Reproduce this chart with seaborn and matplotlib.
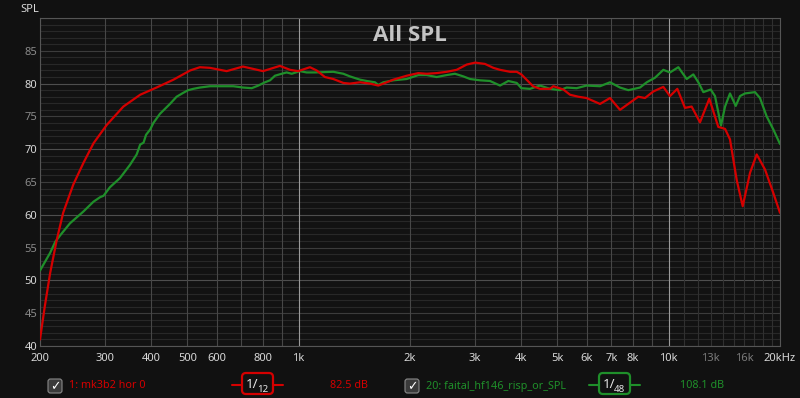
import numpy as np
import pandas as pd
import matplotlib
matplotlib.use('Agg')
import matplotlib.pyplot as plt
import seaborn as sns
from matplotlib.patches import FancyBboxPatch

# Kurve 1: mk3b2 hor 0 (1/12 oct)
freq_red = [200, 206, 213, 222, 231, 246, 262, 279, 303, 336, 373, 413, 459, 509,
            541, 576, 639, 707, 801, 890, 948, 997, 1073, 1119, 1178, 1241, 1321,
            1376, 1465, 1559, 1642, 1730, 1803, 1959, 2106, 2218, 2361, 2513, 2674,
            2846, 3000, 3189, 3360, 3502, 3726, 3886, 4000, 4300, 4492, 4779, 4880,
            5194, 5414, 5701, 6000, 6525, 6944, 7390, 7864, 8280, 8632, 9091, 9676,
            10086, 10556, 11072, 11540, 12157, 12880, 13621, 14207, 14651, 15277,
            15858, 16596, 17300, 18220, 19190, 20000]
spl_red = [41.0, 46.0, 51.1, 56.2, 60.3, 64.6, 67.9, 70.9, 73.7, 76.5, 78.3, 79.4, 80.6, 82.0,
           82.5, 82.4, 81.9, 82.6, 81.9, 82.7, 82.1, 81.9, 82.5, 82.0, 81.0, 80.7, 80.1,
           80.0, 80.2, 80.0, 79.7, 80.2, 80.6, 81.2, 81.6, 81.5, 81.6, 81.8, 82.1,
           82.9, 83.2, 83.0, 82.4, 82.1, 81.8, 81.8, 81.4, 79.6, 79.2, 79.2, 79.6,
           79.1, 78.3, 78.0, 77.8, 76.9, 77.8, 76.0, 77.1, 78.0, 77.8, 78.8, 79.5,
           78.1, 79.2, 76.3, 76.5, 74.1, 77.7, 73.4, 73.1, 71.5, 65.3,
           61.3, 66.4, 69.2, 66.9, 63.3, 60.3]

# Kurve 2: faital_hf146_risp_or_SPL (1/48 oct)
freq_green = [200, 213, 220, 227, 241, 262, 279, 291, 297, 309, 329, 350, 365, 373, 381,
              387, 397, 405, 422, 449, 468, 488, 503, 519, 541, 576, 666, 707, 747, 778,
              811, 837, 863, 900, 928, 958, 1009, 1051, 1107, 1241, 1321, 1376, 1465,
              1527, 1608, 1642, 1694, 1803, 1959, 2106, 2218, 2361, 2513, 2646, 2787,
              2906, 3092, 3290, 3502, 3688, 3886, 4000, 4220, 4492, 4779, 5086, 5302,
              5642, 6000, 6525, 6944, 7390, 7784, 8369, 8726, 9189, 9676, 10086, 10624,
              11188, 11662, 12032, 12411, 12993, 13346, 13853, 14207, 14651, 15184,
              15593, 16086, 17118, 17658, 18408, 19190, 20000]
spl_green = [51.5, 54.2, 55.9, 56.9, 58.7, 60.5, 62.0, 62.7, 62.9, 64.2, 65.6, 67.6, 69.2, 70.7, 71.0,
             72.2, 73.0, 74.0, 75.4, 76.9, 78.0, 78.6, 79.0, 79.2, 79.4, 79.6, 79.6, 79.4, 79.3, 79.7,
             80.2, 80.5, 81.2, 81.5, 81.7, 81.5, 81.9, 81.7, 81.7, 81.8, 81.5, 81.1, 80.6,
             80.4, 80.2, 79.8, 80.2, 80.5, 80.7, 81.3, 81.3, 81.0, 81.3, 81.5, 81.1,
             80.7, 80.5, 80.4, 79.7, 80.4, 80.1, 79.3, 79.2, 79.7, 79.2, 79.0, 79.4,
             79.3, 79.7, 79.6, 80.2, 79.4, 79.0, 79.4, 80.2, 80.9, 82.1, 81.7, 82.5,
             80.7, 81.4, 80.2, 78.7, 79.1, 78.1, 73.6, 76.5, 78.5, 76.6,
             78.1, 78.5, 78.7, 77.8, 75.0, 73.0, 70.8]

x_major = [200, 300, 400, 500, 600, 700, 800, 900, 1000,
           2000, 3000, 4000, 5000, 6000, 7000, 8000, 9000, 10000]
x_major_labels = ['200', '300', '400', '500', '600', '', '800', '', '1k',
                  '2k', '3k', '4k', '5k', '6k', '7k', '8k', '', '10k']
x_minor = [11000, 12000, 13000, 14000, 15000, 16000, 17000, 18000, 19000, 20000]
x_minor_labels = ['', '', '13k', '', '', '16k', '', '', '', '20kHz']
y_ticks = [40, 45, 50, 55, 60, 65, 70, 75, 80, 85]

ROED = '#d40000'
GROEN = '#1f8f2a'
BG = '#111111'

sns.set_style('dark', rc={'axes.facecolor': '#121212', 'figure.facecolor': BG})
plt.rcParams['font.family'] = ['Noto Sans', 'DejaVu Sans']

fig = plt.figure(figsize=(8, 3.98), dpi=100)
ax = fig.add_axes([40/800, 1-346/398, 740/800, 328/398])

# gitter
for v in range(40, 91):
    if v % 10 == 0:
        c = '#4e4e4e'
    elif v % 5 == 0:
        c = '#3c3c3c'
    else:
        c = '#282828'
    ax.axhline(v, color=c, lw=0.8, zorder=0)
for f in x_major:
    c = '#9a9a9a' if f in (1000, 10000) else '#474747'
    ax.axvline(f, color=c, lw=0.8, zorder=0)
for f in x_minor:
    ax.axvline(f, color='#303030', lw=0.8, zorder=0)

df_red = pd.DataFrame({'freq': freq_red, 'spl': spl_red})
df_green = pd.DataFrame({'freq': freq_green, 'spl': spl_green})
sns.lineplot(data=df_green, x='freq', y='spl', color=GROEN, lw=1.6, ax=ax, zorder=4)
sns.lineplot(data=df_red, x='freq', y='spl', color=ROED, lw=1.6, ax=ax, zorder=5)

ax.set_xscale('log')
ax.set_xlim(200, 20000)
ax.set_ylim(40, 90)
ax.grid(False)
ax.set_xlabel('')
ax.set_ylabel('')
ax.set_xticks(x_major, x_major_labels)
ax.set_xticks(x_minor, x_minor_labels, minor=True)
ax.set_yticks(y_ticks, [str(v) for v in y_ticks])
ax.set_yticks([], minor=True)
ax.tick_params(which='both', length=0, labelsize=8)
ax.tick_params(axis='x', which='both', pad=5)
ax.tick_params(axis='y', pad=2)
for lbl in ax.get_xticklabels():
    lbl.set_color('#d8d8d8')
for lbl in ax.get_xticklabels(minor=True):
    lbl.set_color('#d8d8d8' if lbl.get_text() == '20kHz' else '#7a7a7a')
for lbl, v in zip(ax.get_yticklabels(), y_ticks):
    lbl.set_color('#d8d8d8' if v % 10 == 0 else '#8a8a8a')
for sp in ax.spines.values():
    sp.set_color('#555555')
    sp.set_linewidth(0.8)

ax.text(0.5, 0.948, 'All SPL', transform=ax.transAxes, ha='center', va='center',
        fontsize=16, fontweight='bold', color='#c4c4c4',
        family=['Open Sans', 'DejaVu Sans'])

# overlay i pixel-koordinater til SPL-label og legend
ov = fig.add_axes([0, 0, 1, 1], facecolor='none')
ov.set_xlim(0, 800)
ov.set_ylim(398, 0)
ov.axis('off')

ov.text(20, 9, 'SPL', fontsize=8, color='#d8d8d8', va='center', ha='left')

def legend_entry(x0, navn, farve, frac_x, frac_den, db_x, db_txt):
    ov.add_patch(FancyBboxPatch((x0, 379), 14, 14, boxstyle='round,pad=0,rounding_size=2.5',
                                fc='#3a3a3a', ec='#8a8a8a', lw=0.8))
    ov.text(x0 + 7, 386.5, '✓', fontsize=9, color='white', ha='center', va='center',
            family=['DejaVu Sans'])
    ov.text(x0 + 21, 386, navn, fontsize=7.8, color=farve, ha='left', va='center')
    ov.plot([frac_x, frac_x + 51], [385, 385], color=farve, lw=1.5)
    ov.add_patch(FancyBboxPatch((frac_x + 10, 373), 31, 21, boxstyle='round,pad=0,rounding_size=4',
                                fc=BG, ec=farve, lw=1.6, zorder=3))
    ov.text(frac_x + 13.5, 384, '1/', fontsize=9.5, color='#e6e6e6', ha='left', va='center', zorder=4)
    ov.text(frac_x + 25, 389, frac_den, fontsize=7, color='#e6e6e6', ha='left', va='center', zorder=4)
    ov.text(db_x, 386, db_txt, fontsize=7.8, color=farve, ha='left', va='center')

legend_entry(48, '1: mk3b2 hor 0', ROED, 232, '12', 330, '82.5 dB')
legend_entry(405, '20: faital_hf146_risp_or_SPL', GROEN, 589, '48', 680, '108.1 dB')

fig.savefig('out.png', dpi=100, facecolor=BG)
